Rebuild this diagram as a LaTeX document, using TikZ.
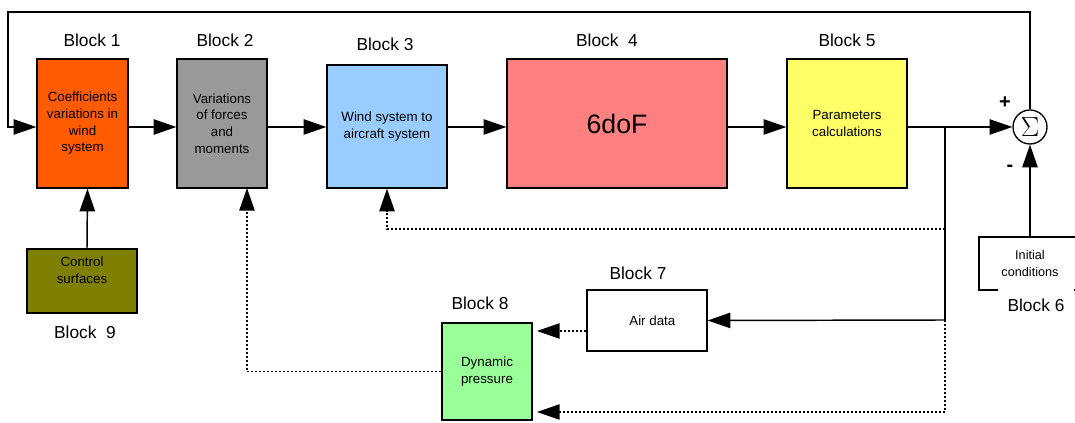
\documentclass[tikz,border=0pt]{standalone}
\usepackage{fontspec}
\setmainfont{Liberation Sans}
\usetikzlibrary{arrows.meta}

\definecolor{coefcol}{RGB}{255,91,0}
\definecolor{forcecol}{RGB}{153,153,153}
\definecolor{windcol}{RGB}{153,204,255}
\definecolor{dofcol}{RGB}{255,128,128}
\definecolor{paramcol}{RGB}{255,255,102}
\definecolor{ctrlcol}{RGB}{128,128,0}
\definecolor{dyncol}{RGB}{153,255,153}

\begin{document}
\begin{tikzpicture}[x=0.75pt, y=-0.75pt,
  blk/.style={draw, line width=1pt, align=center, inner sep=1pt,
    font=\fontsize{10}{12.5}\selectfont},
  ttl/.style={font=\fontsize{13}{15}\selectfont},
  arr/.style={-{Triangle[length=17pt,width=11.5pt]}, line width=1.1pt},
  darr/.style={arr, dash pattern=on 1.5pt off 1.5pt}]
\clip (0,0) rectangle (1075,423);
%\draw[very thin,gray] (0,0) grid[step=50] (1075,423);

% main row
\node[blk, fill=coefcol, minimum width=68.25pt, minimum height=96.75pt] (b1) at (82.5,123.5) {Coefficients\\variations in\\wind\\system};
\node[blk, fill=forcecol, minimum width=67.5pt, minimum height=96.75pt] (b2) at (222,123.5) {Variations\\of forces\\and\\moments};
\node[blk, fill=windcol, minimum width=90pt, minimum height=92.25pt] (b3) at (387,126.5) {Wind system to\\aircraft system};
\node[blk, fill=dofcol, minimum width=165pt, minimum height=96.75pt, font=\fontsize{20}{24}\selectfont] (b4) at (617,123.5) {6doF};
\node[blk, fill=paramcol, minimum width=90pt, minimum height=96.75pt] (b5) at (847,123.5) {Parameters\\calculations};
\node[draw, circle, line width=1pt, minimum size=25.5pt, inner sep=0pt] (sum) at (1030,127) {\fontsize{22}{22}\selectfont$\Sigma$};

% lower blocks
\node[blk, fill=ctrlcol, minimum width=82.5pt, minimum height=48pt] (b9) at (82,281) {Control\\surfaces\\[4pt]};
\node[blk, minimum width=90pt, minimum height=45.75pt] (b7) at (647,320.5) {\hspace{8pt}Air data};
\node[blk, fill=dyncol, minimum width=67.5pt, minimum height=72.75pt] (b8) at (487,371.5) {Dynamic\\pressure};
\node[blk, minimum width=76.5pt, minimum height=39.75pt, font=\fontsize{9.5}{12.5}\selectfont] (b6) at (1030,263.5) {Initial\\conditions};

% titles
\node[ttl] (t1) at (92,40) {Block 1};
\node[ttl] (t2) at (225,40) {Block 2};
\node[ttl] (t3) at (385,44) {Block 3};
\node[ttl] (t4) at (607,40) {Block\ \ 4};
\node[ttl] (t5) at (847,40) {Block 5};
\node[ttl] (t9) at (85,332) {Block\ \ 9};
\node[ttl] (t7) at (638,273) {Block 7};
\node[ttl] (t8) at (480,303) {Block 8};
\node[ttl, fill=white, inner xsep=7.5pt, minimum height=24pt] (t6) at (1036,305) {Block 6};
\node[font=\fontsize{15}{15}\bfseries] (plus) at (1005,103) {+};
\node[font=\fontsize{15}{15}\bfseries] (minus) at (1010,168) {-};

% points on the wires
\coordinate (fbk) at (8,12);
\coordinate (split) at (945,127);
\coordinate (d3) at (945,229);
\coordinate (d7) at (945,320);
\coordinate (d8) at (945,412);
\coordinate (q1) at (537,331);
\coordinate (q2) at (537,412);
\coordinate (p2) at (247,188);

% forward path
\draw[arr] (sum.north) |- (fbk) |- (b1.west |- sum);
\draw[arr] (b1.east |- sum) -- (b2.west |- sum);
\draw[arr] (b2.east |- sum) -- (b3.west |- sum);
\draw[arr] (b3.east |- sum) -- (b4.west |- sum);
\draw[arr] (b4.east |- sum) -- (b5.west |- sum);
\draw[arr] (b5.east |- sum) -- (sum.west);
\draw[arr] ([xshift=3.75pt]b9.north) -- ([xshift=3.75pt]b1.south);
\draw[arr] (b6.north) -- (sum.south);

% feedback branches
\draw[line width=1.1pt] (split) -- (d7);
\draw[arr] (d7) -- (b7.east);
\draw[darr] (d3) -| (b3.south);
\draw[darr] (d7) -- (d8) -- (q2);
\draw[darr] (b7.west |- q1) -- (q1);
\draw[darr] (b8.west) -| (p2);

\end{tikzpicture}
\end{document}
